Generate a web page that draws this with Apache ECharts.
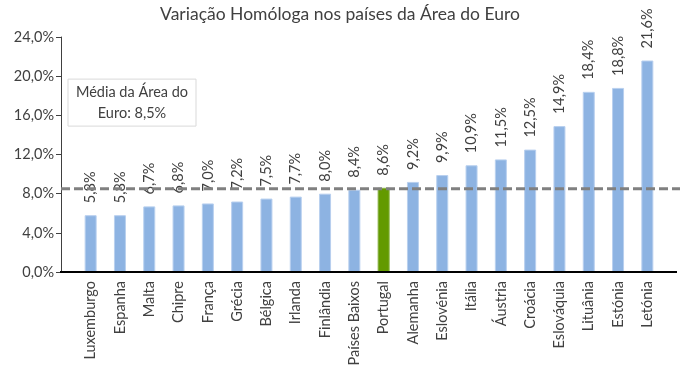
<!DOCTYPE html>
<html>
<head>
<meta charset="utf-8">
<script src="https://cdn.jsdelivr.net/npm/echarts@6/dist/echarts.min.js"></script>
<style>html,body{margin:0;padding:0;background:#fff}#c{width:680px;height:372px}</style>
</head>
<body>
<div id="c"></div>
<script>
const title = 'Variação Homóloga nos países da Área do Euro';
const countries = ['Luxemburgo','Espanha','Malta','Chipre','França','Grécia','Bélgica','Irlanda','Finlândia','Países Baixos','Portugal','Alemanha','Eslovénia','Itália','Áustria','Croácia','Eslováquia','Lituânia','Estónia','Letónia'];
const values = [5.8,5.8,6.7,6.8,7.0,7.2,7.5,7.7,8.0,8.4,8.6,9.2,9.9,10.9,11.5,12.5,14.9,18.4,18.8,21.6];
const highlight = 'Portugal';
const euroAverage = 8.5;
const avgLabel = ['Média da Área do', 'Euro: 8,5%'];
const yTicks = [0,4,8,12,16,20,24];

const FONT = 'Lato, "Open Sans", sans-serif';
const fmt = v => v.toFixed(1).replace('.', ',') + '%';

const chart = echarts.init(document.getElementById('c'));
const option = {
  animation: false,
  textStyle: {fontFamily: FONT},
  title: {text: title, left: 'center', top: 0, textStyle: {fontFamily: FONT, fontSize: 17.5, fontWeight: 'normal', color: '#404040'}},
  grid: {left: 76, right: 18, top: 37, bottom: 100},
  xAxis: {
    type: 'category', data: countries,
    axisLine: {show: false},
    axisTick: {show: false},
    axisLabel: {rotate: 90, fontSize: 14.5, color: '#404040', margin: 9, fontFamily: FONT, interval: 0}
  },
  yAxis: {
    type: 'value', min: yTicks[0], max: yTicks[yTicks.length-1], interval: 4,
    offset: 15,
    axisLine: {show: true, lineStyle: {color: '#404040', width: 1}},
    axisTick: {show: true, length: 5, lineStyle: {color: '#404040'}},
    splitLine: {show: false},
    axisLabel: {formatter: v => fmt(v), fontSize: 14.5, color: '#404040', margin: 7, fontFamily: FONT}
  },
  series: [{
    type: 'bar',
    barWidth: 12,
    data: values.map((v, i) => ({
      value: v,
      itemStyle: countries[i] === highlight
        ? {color: '#639a00', borderColor: '#86b040', borderWidth: 1}
        : {color: '#8db3e2', borderColor: '#b9d0ef', borderWidth: 1}
    })),
    label: {
      show: true, position: 'top', rotate: 90, align: 'left', verticalAlign: 'middle', distance: 12,
      formatter: p => fmt(p.value), fontSize: 14.5, color: '#404040', fontFamily: FONT
    }
  }]
};
chart.setOption(option);

const y0 = chart.convertToPixel({yAxisIndex: 0}, 0);
const yAvg = chart.convertToPixel({yAxisIndex: 0}, euroAverage);
const yBoxTop = chart.convertToPixel({yAxisIndex: 0}, 19.7);
chart.setOption({
  graphic: [
    {type: 'line', z: 5, shape: {x1: 60, y1: y0, x2: 677, y2: y0}, style: {stroke: '#000', lineWidth: 2}},
    {type: 'line', z: 10, shape: {x1: 61, y1: yAvg, x2: 680, y2: yAvg}, style: {stroke: '#808080', lineWidth: 3, lineDash: [9, 4]}},
    {type: 'rect', z: 10, shape: {x: 68, y: yBoxTop, width: 128, height: 47}, style: {fill: '#fff', stroke: '#d9d9d9', lineWidth: 1}},
    {type: 'text', z: 11, x: 132, y: yBoxTop + 23.5, style: {text: avgLabel.join('\n'), fill: '#404040', font: '14.5px ' + FONT, align: 'center', verticalAlign: 'middle', lineHeight: 21}}
  ]
});
</script>
</body>
</html>
